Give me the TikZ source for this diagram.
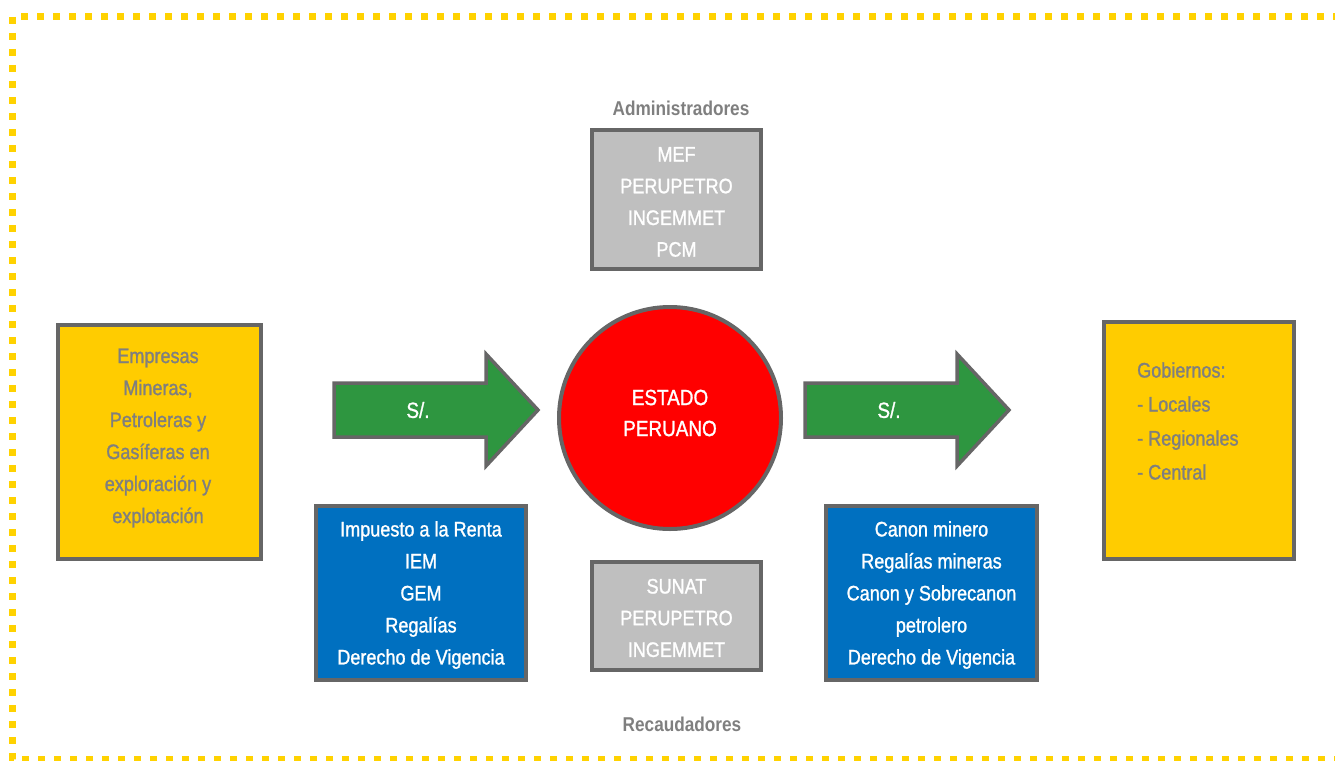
\documentclass[tikz,border=0pt]{standalone}
\usepackage{fontspec}
\setmainfont{Liberation Sans}[FakeStretch=0.86,UprightFeatures={FakeBold=1.2}]
\definecolor{dashy}{RGB}{255,210,0}
\definecolor{yel}{HTML}{FFCC00}
\definecolor{bord}{HTML}{666666}
\definecolor{gtxt}{HTML}{7F7F7F}
\definecolor{gbox}{HTML}{BFBFBF}
\definecolor{bbox}{HTML}{0070C0}
\definecolor{grn}{HTML}{2E9640}
\begin{document}
\begin{tikzpicture}[x=1pt,y=-1pt,
  frame/.style={draw=dashy,line width=7pt,dash pattern=on 7pt off 9pt},
  boxy/.style={draw=bord,line width=4pt,inner sep=0pt,minimum width=#1},
  txt/.style={font=\fontsize{21}{32}\selectfont,align=center,inner sep=0pt},
  arrowshape/.style={draw=bord,line width=3.5pt,fill=grn,line join=miter},
  lbl/.style={font=\fontsize{20}{24}\selectfont\bfseries,text=gtxt,inner sep=0pt}]
\useasboundingbox (0,0) rectangle (1335,760);
% dashed frame
\draw[frame] (1340,16.5) -- (12.5,16.5) -- (12.5,759.5) -- (1340,759.5);
% left companies box
\node[boxy=203pt,minimum height=234pt,fill=yel] (emp) at (159.5,442) {};
\node[txt,text=gtxt] (empt) at (158,438) {Empresas\\Mineras,\\Petroleras y\\Gasíferas en\\exploración y\\explotación};
% right government box
\node[boxy=190pt,minimum height=237pt,fill=yel] (gob) at (1199,440.5) {};
\node[txt,text=gtxt,align=left,anchor=west,font=\fontsize{21}{34}\selectfont] (gobt) at (1137,421) {Gobiernos:\\- Locales\\- Regionales\\- Central};
% central circle
\node[circle,draw=bord,line width=4pt,fill=red,minimum size=222pt,inner sep=0pt] (est) at (670,418) {};
\node[txt,text=white,font=\fontsize{22}{31}\selectfont] (estt) at (670,413) {ESTADO\\PERUANO};
% top administrators box
\node[boxy=169pt,minimum height=139pt,fill=gbox] (adm) at (676.5,199.5) {};
\node[txt,text=white,font=\fontsize{21}{31.7}\selectfont] (admt) at (676.5,202) {MEF\\PERUPETRO\\INGEMMET\\PCM};
\node[lbl] (admlbl) at (681,108) {Administradores};
% bottom collectors box
\node[boxy=169pt,minimum height=108pt,fill=gbox] (rec) at (676.5,616) {};
\node[txt,text=white,font=\fontsize{21}{31.7}\selectfont] (rect) at (676.5,618) {SUNAT\\PERUPETRO\\INGEMMET};
\node[lbl] (reclbl) at (682,724) {Recaudadores};
% blue boxes
\node[boxy=210pt,minimum height=174pt,fill=bbox] (imp) at (421,593) {};
\node[txt,text=white] (impt) at (421,595) {Impuesto a la Renta\\IEM\\GEM\\Regalías\\Derecho de Vigencia};
\node[boxy=211pt,minimum height=174pt,fill=bbox] (can) at (931.5,593) {};
\node[txt,text=white] (cant) at (931.5,595) {Canon minero\\Regalías mineras\\Canon y Sobrecanon\\petrolero\\Derecho de Vigencia};
% arrows
\draw[arrowshape] (334,383) -- (486,383) -- (486,354) -- (538,410) -- (486,466) -- (486,437) -- (334,437) -- cycle;
\node[txt,text=white,font=\fontsize{22}{26}\selectfont] (s1) at (418,410) {S/.};
\draw[arrowshape] (805,383) -- (957,383) -- (957,354) -- (1009,410) -- (957,466) -- (957,437) -- (805,437) -- cycle;
\node[txt,text=white,font=\fontsize{22}{26}\selectfont] (s2) at (889,410) {S/.};
\end{tikzpicture}
\end{document}
